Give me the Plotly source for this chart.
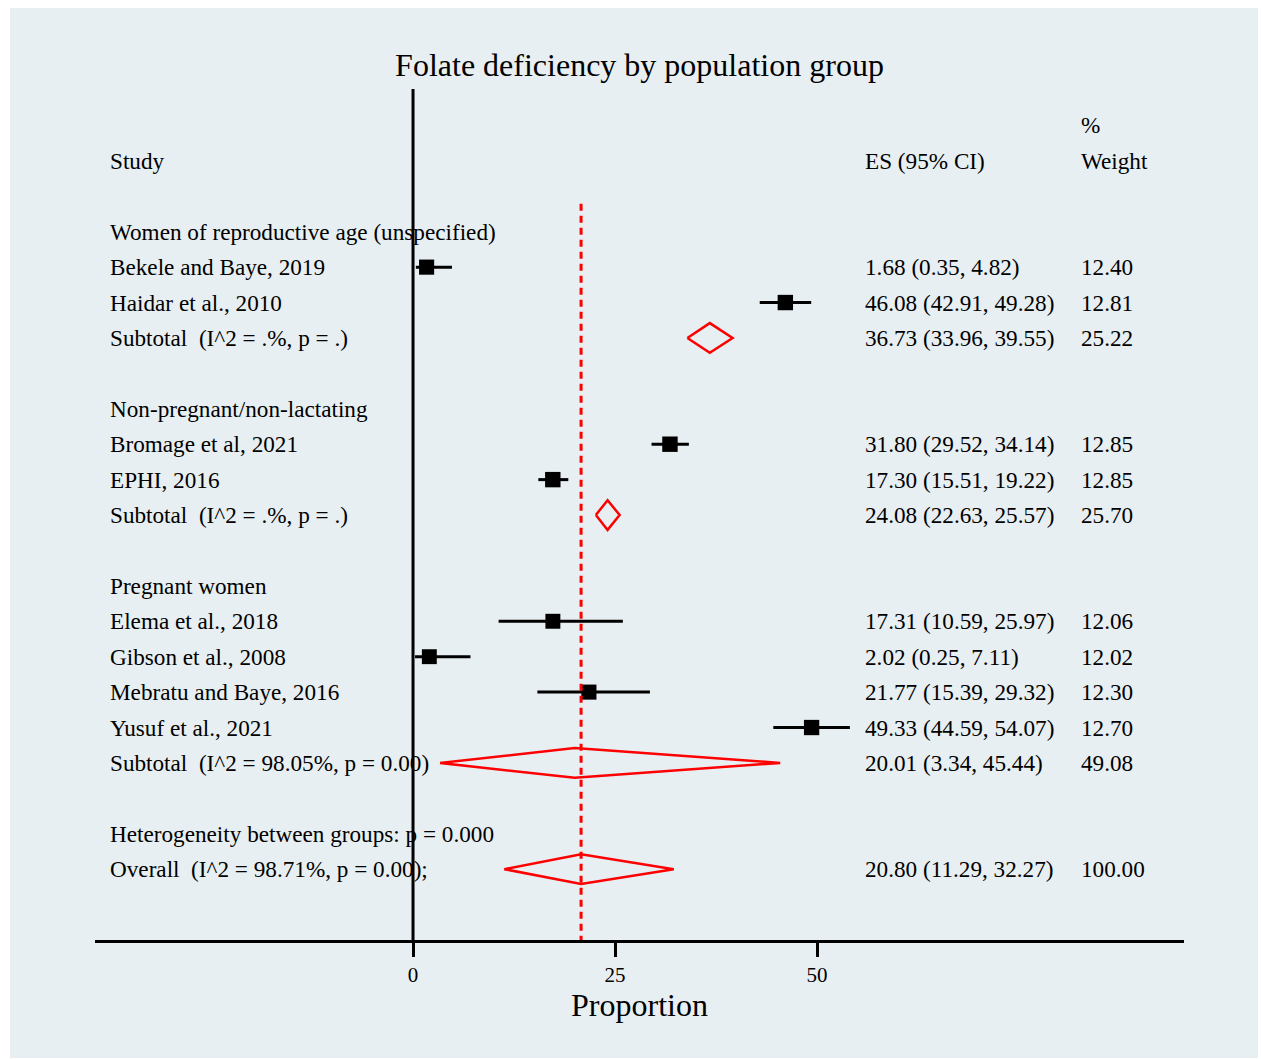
import plotly.graph_objects as go
import math

# ---------------- data ----------------
rows = [0, 1, 2, 3, 5, 6, 7, 8, 10, 11, 12, 13, 14, 15, 17, 18]
labels = [
    "Women of reproductive age (unspecified)",
    "Bekele and Baye, 2019",
    "Haidar et al., 2010",
    "Subtotal\u00a0 (I^2 = .%, p = .)",
    "Non-pregnant/non-lactating",
    "Bromage et al, 2021",
    "EPHI, 2016",
    "Subtotal\u00a0 (I^2 = .%, p = .)",
    "Pregnant women",
    "Elema et al., 2018",
    "Gibson et al., 2008",
    "Mebratu and Baye, 2016",
    "Yusuf et al., 2021",
    "Subtotal\u00a0 (I^2 = 98.05%, p = 0.00)",
    "Heterogeneity between groups: p = 0.000",
    "Overall\u00a0 (I^2 = 98.71%, p = 0.00);",
]
kinds = ["group", "study", "study", "sub", "group", "study", "study", "sub",
         "group", "study", "study", "study", "study", "sub", "group", "overall"]
es = [None, 1.68, 46.08, 36.73, None, 31.80, 17.30, 24.08,
      None, 17.31, 2.02, 21.77, 49.33, 20.01, None, 20.80]
lo = [None, 0.35, 42.91, 33.96, None, 29.52, 15.51, 22.63,
      None, 10.59, 0.25, 15.39, 44.59, 3.34, None, 11.29]
hi = [None, 4.82, 49.28, 39.55, None, 34.14, 19.22, 25.57,
      None, 25.97, 7.11, 29.32, 54.07, 45.44, None, 32.27]
weights = [None, 12.40, 12.81, 25.22, None, 12.85, 12.85, 25.70,
           None, 12.06, 12.02, 12.30, 12.70, 49.08, None, 100.00]

title_text = "Folate deficiency by population group"
x_title = "Proportion"
tick_vals = [0, 25, 50]
tick_text = ["0", "25", "50"]

# ---------------- styling ----------------
FONT = "Liberation Serif"
BG = "#e8eff2"
RED = "#ff0000"
TXT = 23.2
X_RANGE = [-39.36, 95.42]
Y_RANGE = [20.0, -4.03]
X_LABEL = -37.75
X_ES = 55.69
X_W = 82.42
HEADER_ROW = -0.79
DIAMOND_H = 0.42

fig = go.Figure()

# study CIs and squares
sx, sy, sminus, splus, ssize = [], [], [], [], []
for r, k, e, l, h, w in zip(rows, kinds, es, lo, hi, weights):
    if k == "study":
        sx.append(e); sy.append(r)
        sminus.append(e - l); splus.append(h - e)
        ssize.append(4.3 * math.sqrt(w))
fig.add_trace(go.Scatter(
    x=sx, y=sy, mode="markers",
    marker=dict(symbol="square", size=ssize, color="black", opacity=1,
                line=dict(width=0)),
    error_x=dict(type="data", symmetric=False, array=splus, arrayminus=sminus,
                 color="black", thickness=3, width=0),
    showlegend=False, hoverinfo="skip", cliponaxis=False,
))

# diamonds
for r, k, e, l, h in zip(rows, kinds, es, lo, hi):
    if k in ("sub", "overall"):
        fig.add_trace(go.Scatter(
            x=[l, e, h, e, l], y=[r, r - DIAMOND_H, r, r + DIAMOND_H, r],
            mode="lines", line=dict(color=RED, width=2.5),
            showlegend=False, hoverinfo="skip",
        ))

overall_es = es[kinds.index("overall")]

# null line and overall dashed line
fig.add_shape(type="line", xref="x", yref="y", x0=0, x1=0,
              y0=Y_RANGE[1], y1=Y_RANGE[0], line=dict(color="black", width=3),
              layer="above")
fig.add_shape(type="line", xref="x", yref="y", x0=overall_es, x1=overall_es,
              y0=HEADER_ROW, y1=Y_RANGE[0],
              line=dict(color=RED, width=3, dash="7px,5px"), layer="above")
# header separator
fig.add_shape(type="line", xref="paper", yref="y", x0=0, x1=1,
              y0=HEADER_ROW, y1=HEADER_ROW, line=dict(color="#c4c4c4", width=2),
              layer="below")
# background panel
fig.add_shape(type="rect", xref="paper", yref="paper",
              x0=-0.078, x1=1.068, y0=-0.1387, y1=1.0952,
              fillcolor=BG, line=dict(width=0), layer="below")

def ann(x, y, text, size=TXT, anchor="left"):
    fig.add_annotation(x=x, y=y, xref="x", yref="y", text=text, showarrow=False,
                       xanchor=anchor, yanchor="middle",
                       font=dict(family=FONT, size=size, color="black"))

# headers
ann(X_LABEL, -2, "Study")
ann(X_ES, -2, "ES (95% CI)")
ann(X_W, -2, "Weight")
ann(X_W, -3, "%")

for r, k, lab, e, l, h, w in zip(rows, kinds, labels, es, lo, hi, weights):
    ann(X_LABEL, r, lab)
    if e is not None:
        ann(X_ES, r, f"{e:.2f} ({l:.2f}, {h:.2f})")
        ann(X_W, r, f"{w:.2f}")

fig.update_layout(
    width=1261, height=1059,
    margin=dict(l=95, r=77, t=89, b=119, pad=0),
    paper_bgcolor="white", plot_bgcolor="rgba(0,0,0,0)",
    title=dict(text=title_text, x=0.5, xref="paper", xanchor="center",
               y=1 - 65 / 1059, yref="container", yanchor="middle",
               font=dict(family=FONT, size=32, color="black")),
    xaxis=dict(range=X_RANGE, showgrid=False, zeroline=False,
               showline=True, linecolor="black", linewidth=3,
               ticks="outside", ticklen=14, tickwidth=3, tickcolor="black",
               tickvals=tick_vals, ticktext=tick_text,
               tickfont=dict(family=FONT, size=21, color="black"),
               title=dict(text=x_title, font=dict(family=FONT, size=32, color="black"),
                          standoff=2)),
    yaxis=dict(range=Y_RANGE, visible=False, showgrid=False, zeroline=False),
)

fig.write_html("out.html")
